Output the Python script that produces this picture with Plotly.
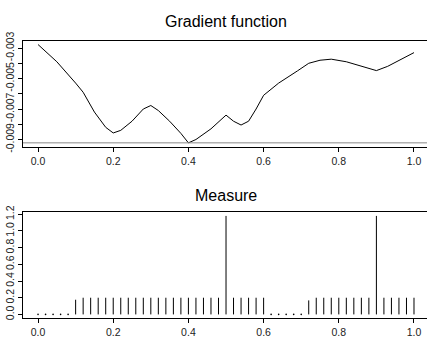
import plotly.graph_objects as go

# Gradient function of the design criterion
grad_x = [0.0, 0.05, 0.10, 0.12, 0.15, 0.18, 0.20, 0.22, 0.25, 0.28, 0.30, 0.32,
          0.35, 0.38, 0.40, 0.42, 0.46, 0.50, 0.52, 0.54, 0.56, 0.58, 0.60, 0.64,
          0.69, 0.72, 0.75, 0.78, 0.82, 0.86, 0.90, 0.93, 0.96, 1.0]
grad_y = [-0.00277, -0.0039, -0.0053, -0.0059, -0.0072, -0.0082, -0.00857, -0.0084,
          -0.0078, -0.0070, -0.00677, -0.0071, -0.0078, -0.0086, -0.00922, -0.0090,
          -0.0083, -0.0074, -0.0078, -0.00805, -0.0078, -0.0070, -0.0061, -0.0053,
          -0.0045, -0.0040, -0.0038, -0.00373, -0.0039, -0.0042, -0.00448, -0.0042,
          -0.0038, -0.0033]

# Measure: weights on the grid 0, 0.02, ..., 1.0
support = [round(i * 0.02, 2) for i in range(51)]
weights = ([0.0] * 5 + [0.176] + [0.2] * 19 + [1.18] + [0.2] * 5 + [0.0] * 5
           + [0.168] + [0.2] * 8 + [1.18] + [0.2] * 5)

grad_ticks = [-0.009, -0.008, -0.007, -0.006, -0.005, -0.004, -0.003]
grad_ticktext = ["-0.009", "", "-0.007", "", "-0.005", "", "-0.003"]
meas_ticks = [0.0, 0.2, 0.4, 0.6, 0.8, 1.0, 1.2]
meas_ticktext = ["0.0", "0.2", "0.4", "0.6", "0.8", "1.0", "1.2"]
x_ticks = [0.0, 0.2, 0.4, 0.6, 0.8, 1.0]
x_ticktext = ["0.0", "0.2", "0.4", "0.6", "0.8", "1.0"]

W, H = 427, 346
FONT = "Liberation Sans, Arial, sans-serif"

fig = go.Figure()

fig.add_trace(go.Scatter(x=grad_x, y=grad_y, mode="lines",
                         line=dict(color="black", width=1),
                         xaxis="x", yaxis="y", showlegend=False))

# vertical spikes for the measure
sx, sy = [], []
for xv, wv in zip(support, weights):
    if wv > 0:
        sx += [xv, xv, None]
        sy += [0, wv, None]
fig.add_trace(go.Scatter(x=sx, y=sy, mode="lines",
                         line=dict(color="black", width=1),
                         xaxis="x2", yaxis="y2", showlegend=False))
zx = [xv for xv, wv in zip(support, weights) if wv == 0]
zy = [0.0 for _ in zx]
fig.add_trace(go.Scatter(x=zx, y=zy, mode="markers",
                         marker=dict(color="black", size=1.6),
                         xaxis="x2", yaxis="y2", showlegend=False))

x_dom = [23 / W, 1.0]
top_dom = [1 - 144 / H, 1 - 33 / H]
bot_dom = [1 - 322 / H, 1 - 211.3 / H]

xcommon = dict(range=[-0.04, 1.0346], domain=x_dom, showgrid=False, zeroline=False,
               showline=True, linecolor="black", linewidth=1, mirror=True,
               ticks="outside", ticklen=4, tickcolor="black", tickwidth=1,
               tickmode="array", tickvals=x_ticks, ticktext=x_ticktext,
               tickfont=dict(family=FONT, size=10.5, color="#222"))
ycommon = dict(showgrid=False, zeroline=False, showline=True, linecolor="black",
               linewidth=1, ticks="outside", ticklen=4, tickcolor="black",
               tickwidth=1, tickmode="array", tickangle=-90,
               tickfont=dict(family=FONT, size=10.5, color="#222"))

fig.update_layout(
    width=W, height=H, margin=dict(l=0, r=0, t=0, b=0),
    paper_bgcolor="white", plot_bgcolor="white",
    xaxis=dict(anchor="y", **xcommon),
    yaxis=dict(anchor="x", domain=top_dom, range=[-0.009503, -0.002516],
               tickvals=grad_ticks, ticktext=grad_ticktext, **ycommon),
    xaxis2=dict(anchor="y2", **xcommon),
    yaxis2=dict(anchor="x2", domain=bot_dom, range=[-0.0425, 1.230],
                tickvals=meas_ticks, ticktext=meas_ticktext, **ycommon),
    shapes=[dict(type="line", xref="x domain", x0=0, x1=1, yref="y",
                 y0=min(grad_y), y1=min(grad_y),
                 line=dict(color="#888888", width=1))],
    annotations=[
        dict(text="Gradient function", xref="paper", yref="paper",
             x=(23 + 429) / 2 / W, y=1 - 13 / H, xanchor="center", yanchor="middle",
             showarrow=False, font=dict(family=FONT, size=16, color="black")),
        dict(text="Measure", xref="paper", yref="paper",
             x=(23 + 429) / 2 / W, y=1 - 194 / H, xanchor="center", yanchor="middle",
             showarrow=False, font=dict(family=FONT, size=16, color="black")),
    ],
)

fig.write_html("out.html")
